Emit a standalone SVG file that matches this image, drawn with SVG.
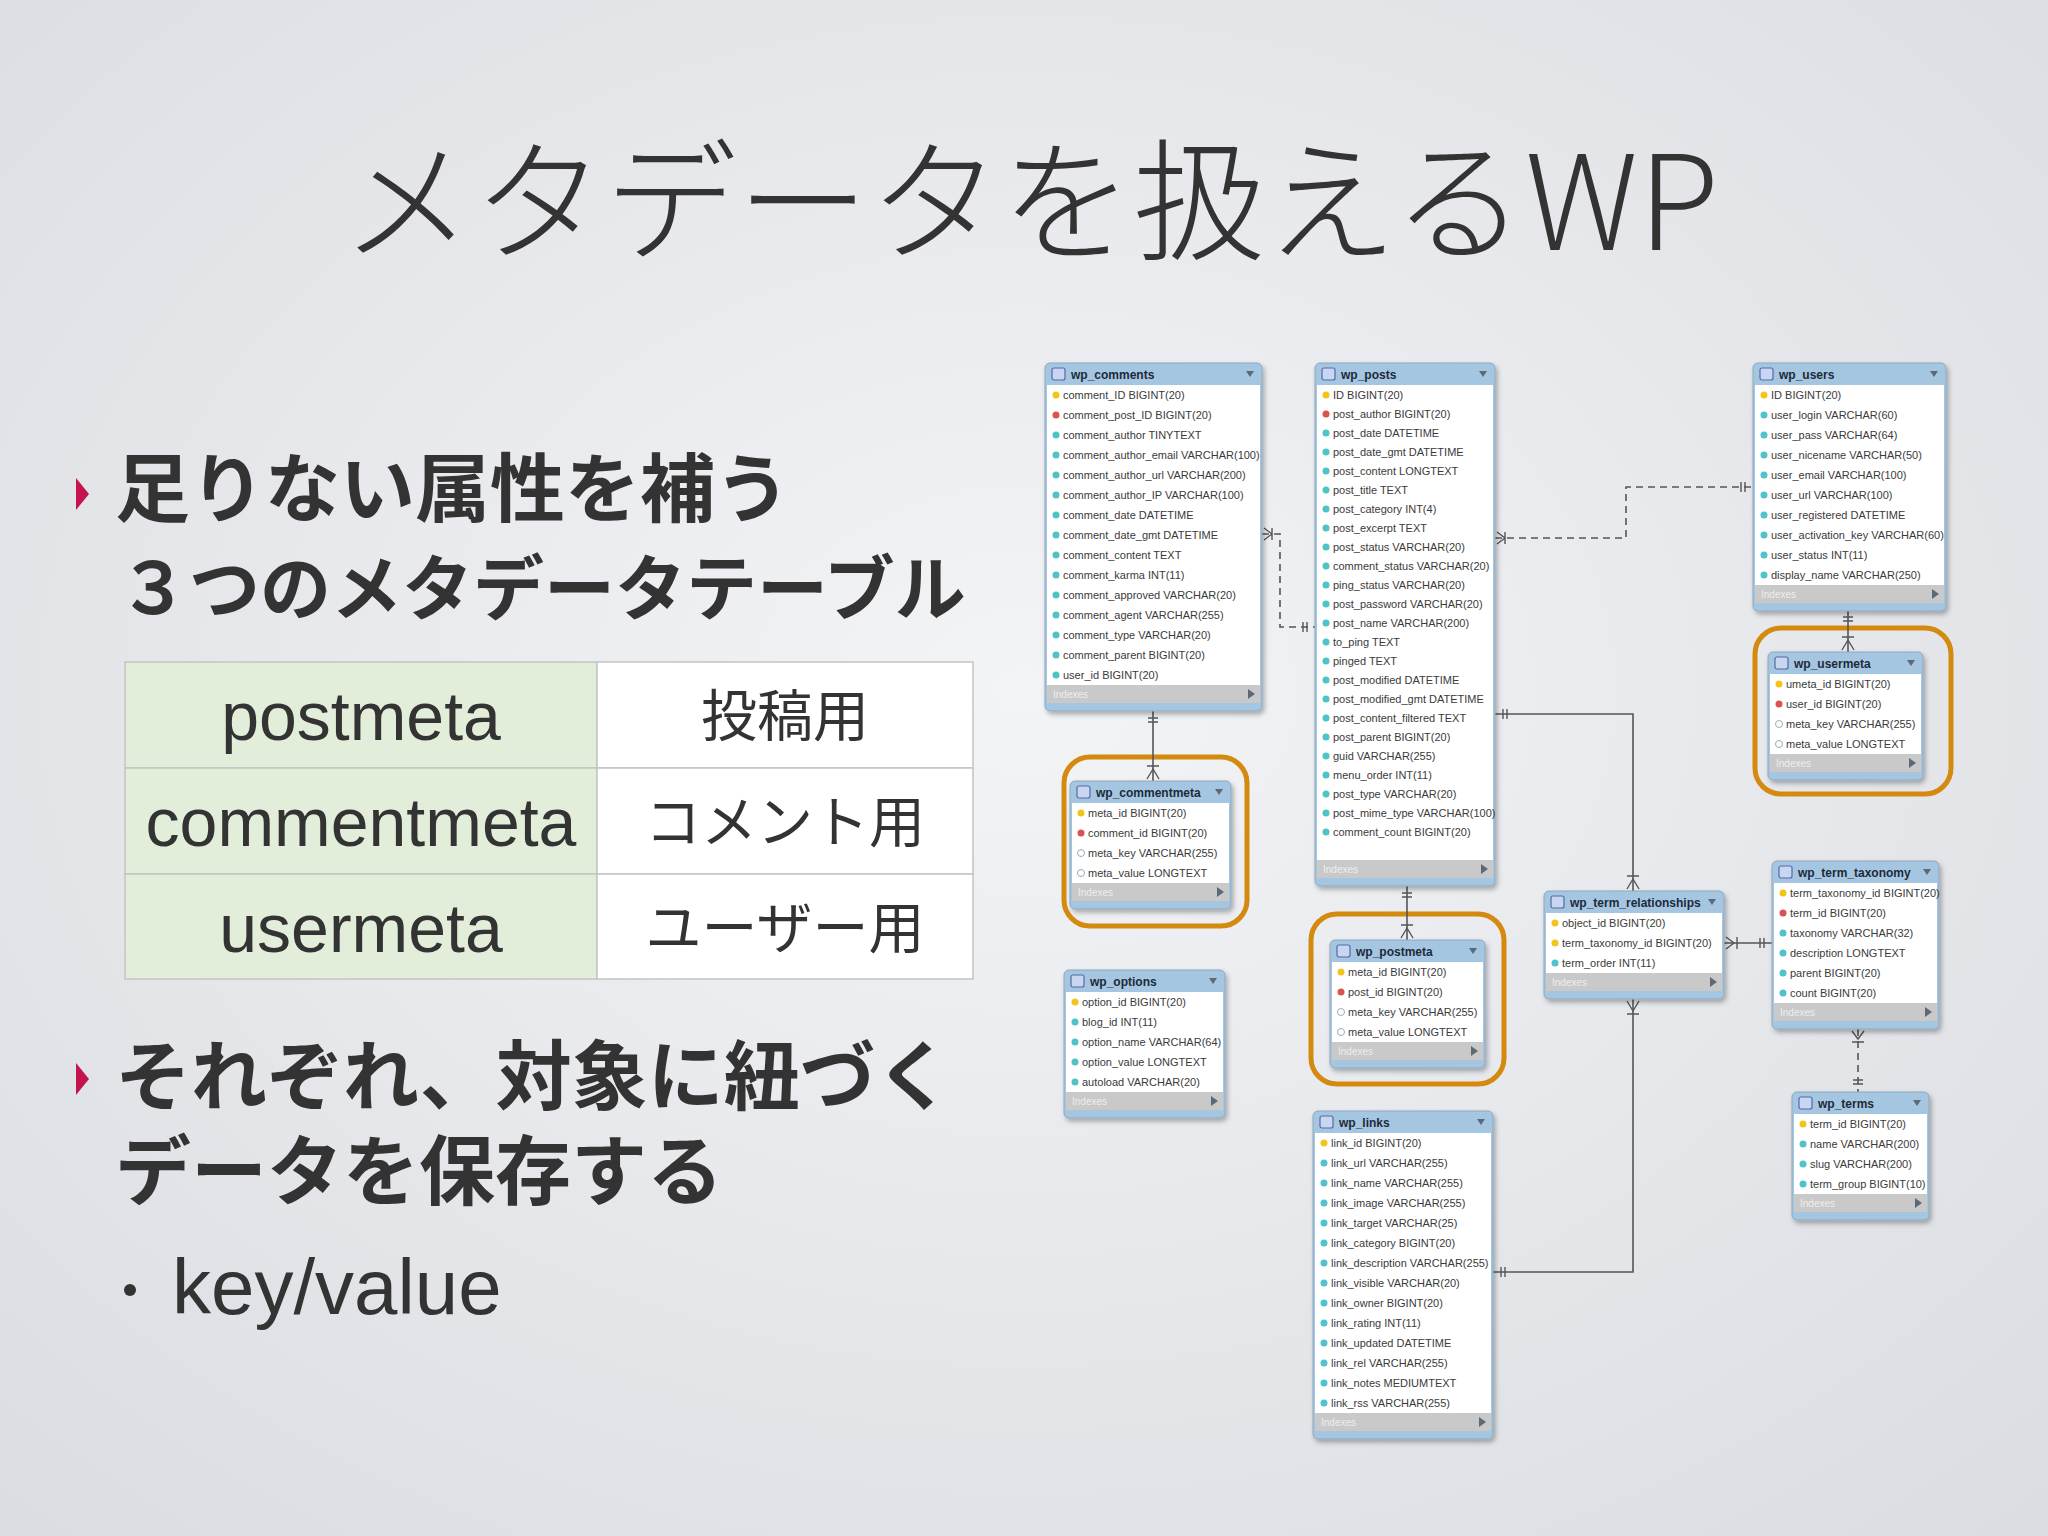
<svg xmlns="http://www.w3.org/2000/svg" width="2048" height="1536" viewBox="0 0 2048 1536">
<defs>
<radialGradient id="bg" cx="50%" cy="45%" r="75%">
<stop offset="0" stop-color="#f3f4f6"/><stop offset="1" stop-color="#d9dce1"/>
</radialGradient>
<filter id="sh" x="-10%" y="-10%" width="130%" height="130%"><feDropShadow dx="2" dy="3" stdDeviation="2.5" flood-color="#000" flood-opacity="0.3"/></filter>
</defs>
<style>
.frame{fill:#a5c6e0;stroke:#8ea7bd;stroke-width:1;filter:url(#sh)}
.body{fill:#fff}
.idx{fill:#c9c9c9}
.ico{fill:#c9d6f2;stroke:#5569a8;stroke-width:1.2}
.th{font-family:"Liberation Sans",Arial,sans-serif;font-weight:bold;font-size:12px;fill:#1d2a3a}
.r{font-family:"Liberation Sans",Arial,sans-serif;font-size:11px;fill:#3a3a3a}
.ix{font-family:"Liberation Sans",Arial,sans-serif;font-size:10px;fill:#eee}
.tri{fill:#5d6a76}
.k{fill:#f2c51a}
.f{fill:#d9534f}
.c{fill:#4fc3c9}
.o{fill:#fff;stroke:#9ab;stroke-width:1}
.hl{fill:none;stroke:#d4890f;stroke-width:5}
.ln{fill:none;stroke:#555;stroke-width:1.6}
.dl{fill:none;stroke:#555;stroke-width:1.6;stroke-dasharray:7 5}
.mk{fill:none;stroke:#555;stroke-width:1.4}
.jp{font-family:"Noto Sans CJK JP",sans-serif;fill:#333}
.en{font-family:"Liberation Sans",Arial,sans-serif;fill:#333}
.cell{stroke:#c3c3c3;stroke-width:1.5}
</style>
<rect width="2048" height="1536" fill="url(#bg)"/>

<text class="jp" x="1030" y="250" font-size="132" font-weight="300" text-anchor="middle">メタデータを扱えるWP</text>

<path d="M76,478 L89,494 L76,510 Z" fill="#c4144d"/>
<text class="jp" x="115" y="516" font-size="75" font-weight="700">足りない属性を補う</text>
<text class="jp" x="118" y="614" font-size="71" font-weight="700">３つのメタデータテーブル</text>

<g id="meta-table">
<rect class="cell" x="125" y="662" width="472" height="106" fill="#e2eed9"/>
<rect class="cell" x="125" y="768" width="472" height="106" fill="#e2eed9"/>
<rect class="cell" x="125" y="874" width="472" height="105" fill="#e2eed9"/>
<rect class="cell" x="597" y="662" width="376" height="106" fill="#fff"/>
<rect class="cell" x="597" y="768" width="376" height="106" fill="#fff"/>
<rect class="cell" x="597" y="874" width="376" height="105" fill="#fff"/>
<text class="en" x="361" y="740" font-size="68" text-anchor="middle">postmeta</text>
<text class="en" x="361" y="846" font-size="68" text-anchor="middle">commentmeta</text>
<text class="en" x="361" y="952" font-size="68" text-anchor="middle">usermeta</text>
<text class="jp" x="785" y="736" font-size="56" text-anchor="middle">投稿用</text>
<text class="jp" x="785" y="842" font-size="56" text-anchor="middle">コメント用</text>
<text class="jp" x="785" y="948" font-size="56" text-anchor="middle">ユーザー用</text>
</g>

<path d="M76,1063 L89,1079 L76,1095 Z" fill="#c4144d"/>
<text class="jp" x="115" y="1104" font-size="76" font-weight="700">それぞれ、対象に紐づく</text>
<text class="jp" x="115" y="1199" font-size="76" font-weight="700">データを保存する</text>
<circle cx="130" cy="1290" r="6" fill="#333"/>
<text class="en" x="172" y="1314" font-size="78">key/value</text>

<rect class="hl" x="1064" y="757" width="183" height="169" rx="26"/>
<rect class="hl" x="1311" y="914" width="193" height="170" rx="26"/>
<rect class="hl" x="1755" y="628" width="196" height="166" rx="26"/>

<g id="connectors">
<path class="dl" d="M1262,534 H1280 V627 H1315"/>
<path class="mk" d="M1264,528 L1272,534 L1264,540 M1272,528 V540 M1303,622 V632 M1307,622 V632"/>
<path class="dl" d="M1495,538 H1626 V487 H1753"/>
<path class="mk" d="M1497,532 L1505,538 L1497,544 M1505,532 V544 M1741,482 V492 M1745,482 V492"/>
<path class="ln" d="M1153,711 V781"/>
<path class="mk" d="M1148,718 H1158 M1148,722 H1158 M1147,779 L1153,769 L1159,779 M1147,766 H1159"/>
<path class="ln" d="M1407,886 V940"/>
<path class="mk" d="M1402,893 H1412 M1402,897 H1412 M1401,938 L1407,928 L1413,938 M1401,925 H1413"/>
<path class="ln" d="M1848,611 V652"/>
<path class="mk" d="M1843,617 H1853 M1843,621 H1853 M1842,650 L1848,640 L1854,650 M1842,637 H1854"/>
<path class="ln" d="M1495,714 H1633 V891"/>
<path class="mk" d="M1503,709 V719 M1507,709 V719 M1627,889 L1633,879 L1639,889 M1627,876 H1639"/>
<path class="ln" d="M1493,1272 H1633 V999"/>
<path class="mk" d="M1501,1267 V1277 M1505,1267 V1277 M1627,1001 L1633,1011 L1639,1001 M1627,1014 H1639"/>
<path class="ln" d="M1724,943 H1772"/>
<path class="mk" d="M1726,937 L1734,943 L1726,949 M1737,937 V949 M1760,938 V948 M1764,938 V948"/>
<path class="dl" d="M1858,1029 V1092"/>
<path class="mk" d="M1852,1031 L1858,1039 L1864,1031 M1852,1042 H1864 M1853,1080 H1863 M1853,1084 H1863"/>
</g>

<g id="wp_comments" transform="translate(1045,363)">
<rect class="frame" width="217" height="348" rx="5"/>
<rect class="body" x="2" y="22" width="213" height="300"/>
<rect class="idx" x="2" y="322" width="213" height="18"/>
<rect class="ico" x="7" y="5" width="13" height="12" rx="2"/>
<text class="th" x="26" y="16">wp_comments</text>
<path class="tri" d="M201,8 h8 l-4,6z"/>
<text class="ix" x="8" y="335">Indexes</text>
<path class="tri" d="M203,326 l7,5 -7,5z"/>
<circle class="k" cx="11" cy="32" r="3.5"/><text class="r" x="18" y="36">comment_ID BIGINT(20)</text>
<circle class="f" cx="11" cy="52" r="3.5"/><text class="r" x="18" y="56">comment_post_ID BIGINT(20)</text>
<circle class="c" cx="11" cy="72" r="3.5"/><text class="r" x="18" y="76">comment_author TINYTEXT</text>
<circle class="c" cx="11" cy="92" r="3.5"/><text class="r" x="18" y="96">comment_author_email VARCHAR(100)</text>
<circle class="c" cx="11" cy="112" r="3.5"/><text class="r" x="18" y="116">comment_author_url VARCHAR(200)</text>
<circle class="c" cx="11" cy="132" r="3.5"/><text class="r" x="18" y="136">comment_author_IP VARCHAR(100)</text>
<circle class="c" cx="11" cy="152" r="3.5"/><text class="r" x="18" y="156">comment_date DATETIME</text>
<circle class="c" cx="11" cy="172" r="3.5"/><text class="r" x="18" y="176">comment_date_gmt DATETIME</text>
<circle class="c" cx="11" cy="192" r="3.5"/><text class="r" x="18" y="196">comment_content TEXT</text>
<circle class="c" cx="11" cy="212" r="3.5"/><text class="r" x="18" y="216">comment_karma INT(11)</text>
<circle class="c" cx="11" cy="232" r="3.5"/><text class="r" x="18" y="236">comment_approved VARCHAR(20)</text>
<circle class="c" cx="11" cy="252" r="3.5"/><text class="r" x="18" y="256">comment_agent VARCHAR(255)</text>
<circle class="c" cx="11" cy="272" r="3.5"/><text class="r" x="18" y="276">comment_type VARCHAR(20)</text>
<circle class="c" cx="11" cy="292" r="3.5"/><text class="r" x="18" y="296">comment_parent BIGINT(20)</text>
<circle class="c" cx="11" cy="312" r="3.5"/><text class="r" x="18" y="316">user_id BIGINT(20)</text>
</g>

<g id="wp_posts" transform="translate(1315,363)">
<rect class="frame" width="180" height="523" rx="5"/>
<rect class="body" x="2" y="22" width="176" height="475"/>
<rect class="idx" x="2" y="497" width="176" height="18"/>
<rect class="ico" x="7" y="5" width="13" height="12" rx="2"/>
<text class="th" x="26" y="16">wp_posts</text>
<path class="tri" d="M164,8 h8 l-4,6z"/>
<text class="ix" x="8" y="510">Indexes</text>
<path class="tri" d="M166,501 l7,5 -7,5z"/>
<circle class="k" cx="11" cy="32" r="3.5"/><text class="r" x="18" y="36">ID BIGINT(20)</text>
<circle class="f" cx="11" cy="51" r="3.5"/><text class="r" x="18" y="55">post_author BIGINT(20)</text>
<circle class="c" cx="11" cy="70" r="3.5"/><text class="r" x="18" y="74">post_date DATETIME</text>
<circle class="c" cx="11" cy="89" r="3.5"/><text class="r" x="18" y="93">post_date_gmt DATETIME</text>
<circle class="c" cx="11" cy="108" r="3.5"/><text class="r" x="18" y="112">post_content LONGTEXT</text>
<circle class="c" cx="11" cy="127" r="3.5"/><text class="r" x="18" y="131">post_title TEXT</text>
<circle class="c" cx="11" cy="146" r="3.5"/><text class="r" x="18" y="150">post_category INT(4)</text>
<circle class="c" cx="11" cy="165" r="3.5"/><text class="r" x="18" y="169">post_excerpt TEXT</text>
<circle class="c" cx="11" cy="184" r="3.5"/><text class="r" x="18" y="188">post_status VARCHAR(20)</text>
<circle class="c" cx="11" cy="203" r="3.5"/><text class="r" x="18" y="207">comment_status VARCHAR(20)</text>
<circle class="c" cx="11" cy="222" r="3.5"/><text class="r" x="18" y="226">ping_status VARCHAR(20)</text>
<circle class="c" cx="11" cy="241" r="3.5"/><text class="r" x="18" y="245">post_password VARCHAR(20)</text>
<circle class="c" cx="11" cy="260" r="3.5"/><text class="r" x="18" y="264">post_name VARCHAR(200)</text>
<circle class="c" cx="11" cy="279" r="3.5"/><text class="r" x="18" y="283">to_ping TEXT</text>
<circle class="c" cx="11" cy="298" r="3.5"/><text class="r" x="18" y="302">pinged TEXT</text>
<circle class="c" cx="11" cy="317" r="3.5"/><text class="r" x="18" y="321">post_modified DATETIME</text>
<circle class="c" cx="11" cy="336" r="3.5"/><text class="r" x="18" y="340">post_modified_gmt DATETIME</text>
<circle class="c" cx="11" cy="355" r="3.5"/><text class="r" x="18" y="359">post_content_filtered TEXT</text>
<circle class="c" cx="11" cy="374" r="3.5"/><text class="r" x="18" y="378">post_parent BIGINT(20)</text>
<circle class="c" cx="11" cy="393" r="3.5"/><text class="r" x="18" y="397">guid VARCHAR(255)</text>
<circle class="c" cx="11" cy="412" r="3.5"/><text class="r" x="18" y="416">menu_order INT(11)</text>
<circle class="c" cx="11" cy="431" r="3.5"/><text class="r" x="18" y="435">post_type VARCHAR(20)</text>
<circle class="c" cx="11" cy="450" r="3.5"/><text class="r" x="18" y="454">post_mime_type VARCHAR(100)</text>
<circle class="c" cx="11" cy="469" r="3.5"/><text class="r" x="18" y="473">comment_count BIGINT(20)</text>
</g>

<g id="wp_users" transform="translate(1753,363)">
<rect class="frame" width="193" height="248" rx="5"/>
<rect class="body" x="2" y="22" width="189" height="200"/>
<rect class="idx" x="2" y="222" width="189" height="18"/>
<rect class="ico" x="7" y="5" width="13" height="12" rx="2"/>
<text class="th" x="26" y="16">wp_users</text>
<path class="tri" d="M177,8 h8 l-4,6z"/>
<text class="ix" x="8" y="235">Indexes</text>
<path class="tri" d="M179,226 l7,5 -7,5z"/>
<circle class="k" cx="11" cy="32" r="3.5"/><text class="r" x="18" y="36">ID BIGINT(20)</text>
<circle class="c" cx="11" cy="52" r="3.5"/><text class="r" x="18" y="56">user_login VARCHAR(60)</text>
<circle class="c" cx="11" cy="72" r="3.5"/><text class="r" x="18" y="76">user_pass VARCHAR(64)</text>
<circle class="c" cx="11" cy="92" r="3.5"/><text class="r" x="18" y="96">user_nicename VARCHAR(50)</text>
<circle class="c" cx="11" cy="112" r="3.5"/><text class="r" x="18" y="116">user_email VARCHAR(100)</text>
<circle class="c" cx="11" cy="132" r="3.5"/><text class="r" x="18" y="136">user_url VARCHAR(100)</text>
<circle class="c" cx="11" cy="152" r="3.5"/><text class="r" x="18" y="156">user_registered DATETIME</text>
<circle class="c" cx="11" cy="172" r="3.5"/><text class="r" x="18" y="176">user_activation_key VARCHAR(60)</text>
<circle class="c" cx="11" cy="192" r="3.5"/><text class="r" x="18" y="196">user_status INT(11)</text>
<circle class="c" cx="11" cy="212" r="3.5"/><text class="r" x="18" y="216">display_name VARCHAR(250)</text>
</g>

<g id="wp_usermeta" transform="translate(1768,652)">
<rect class="frame" width="155" height="128" rx="5"/>
<rect class="body" x="2" y="22" width="151" height="80"/>
<rect class="idx" x="2" y="102" width="151" height="18"/>
<rect class="ico" x="7" y="5" width="13" height="12" rx="2"/>
<text class="th" x="26" y="16">wp_usermeta</text>
<path class="tri" d="M139,8 h8 l-4,6z"/>
<text class="ix" x="8" y="115">Indexes</text>
<path class="tri" d="M141,106 l7,5 -7,5z"/>
<circle class="k" cx="11" cy="32" r="3.5"/><text class="r" x="18" y="36">umeta_id BIGINT(20)</text>
<circle class="f" cx="11" cy="52" r="3.5"/><text class="r" x="18" y="56">user_id BIGINT(20)</text>
<circle class="o" cx="11" cy="72" r="3.5"/><text class="r" x="18" y="76">meta_key VARCHAR(255)</text>
<circle class="o" cx="11" cy="92" r="3.5"/><text class="r" x="18" y="96">meta_value LONGTEXT</text>
</g>

<g id="wp_commentmeta" transform="translate(1070,781)">
<rect class="frame" width="161" height="128" rx="5"/>
<rect class="body" x="2" y="22" width="157" height="80"/>
<rect class="idx" x="2" y="102" width="157" height="18"/>
<rect class="ico" x="7" y="5" width="13" height="12" rx="2"/>
<text class="th" x="26" y="16">wp_commentmeta</text>
<path class="tri" d="M145,8 h8 l-4,6z"/>
<text class="ix" x="8" y="115">Indexes</text>
<path class="tri" d="M147,106 l7,5 -7,5z"/>
<circle class="k" cx="11" cy="32" r="3.5"/><text class="r" x="18" y="36">meta_id BIGINT(20)</text>
<circle class="f" cx="11" cy="52" r="3.5"/><text class="r" x="18" y="56">comment_id BIGINT(20)</text>
<circle class="o" cx="11" cy="72" r="3.5"/><text class="r" x="18" y="76">meta_key VARCHAR(255)</text>
<circle class="o" cx="11" cy="92" r="3.5"/><text class="r" x="18" y="96">meta_value LONGTEXT</text>
</g>

<g id="wp_options" transform="translate(1064,970)">
<rect class="frame" width="161" height="148" rx="5"/>
<rect class="body" x="2" y="22" width="157" height="100"/>
<rect class="idx" x="2" y="122" width="157" height="18"/>
<rect class="ico" x="7" y="5" width="13" height="12" rx="2"/>
<text class="th" x="26" y="16">wp_options</text>
<path class="tri" d="M145,8 h8 l-4,6z"/>
<text class="ix" x="8" y="135">Indexes</text>
<path class="tri" d="M147,126 l7,5 -7,5z"/>
<circle class="k" cx="11" cy="32" r="3.5"/><text class="r" x="18" y="36">option_id BIGINT(20)</text>
<circle class="c" cx="11" cy="52" r="3.5"/><text class="r" x="18" y="56">blog_id INT(11)</text>
<circle class="c" cx="11" cy="72" r="3.5"/><text class="r" x="18" y="76">option_name VARCHAR(64)</text>
<circle class="c" cx="11" cy="92" r="3.5"/><text class="r" x="18" y="96">option_value LONGTEXT</text>
<circle class="c" cx="11" cy="112" r="3.5"/><text class="r" x="18" y="116">autoload VARCHAR(20)</text>
</g>

<g id="wp_postmeta" transform="translate(1330,940)">
<rect class="frame" width="155" height="128" rx="5"/>
<rect class="body" x="2" y="22" width="151" height="80"/>
<rect class="idx" x="2" y="102" width="151" height="18"/>
<rect class="ico" x="7" y="5" width="13" height="12" rx="2"/>
<text class="th" x="26" y="16">wp_postmeta</text>
<path class="tri" d="M139,8 h8 l-4,6z"/>
<text class="ix" x="8" y="115">Indexes</text>
<path class="tri" d="M141,106 l7,5 -7,5z"/>
<circle class="k" cx="11" cy="32" r="3.5"/><text class="r" x="18" y="36">meta_id BIGINT(20)</text>
<circle class="f" cx="11" cy="52" r="3.5"/><text class="r" x="18" y="56">post_id BIGINT(20)</text>
<circle class="o" cx="11" cy="72" r="3.5"/><text class="r" x="18" y="76">meta_key VARCHAR(255)</text>
<circle class="o" cx="11" cy="92" r="3.5"/><text class="r" x="18" y="96">meta_value LONGTEXT</text>
</g>

<g id="wp_links" transform="translate(1313,1111)">
<rect class="frame" width="180" height="328" rx="5"/>
<rect class="body" x="2" y="22" width="176" height="280"/>
<rect class="idx" x="2" y="302" width="176" height="18"/>
<rect class="ico" x="7" y="5" width="13" height="12" rx="2"/>
<text class="th" x="26" y="16">wp_links</text>
<path class="tri" d="M164,8 h8 l-4,6z"/>
<text class="ix" x="8" y="315">Indexes</text>
<path class="tri" d="M166,306 l7,5 -7,5z"/>
<circle class="k" cx="11" cy="32" r="3.5"/><text class="r" x="18" y="36">link_id BIGINT(20)</text>
<circle class="c" cx="11" cy="52" r="3.5"/><text class="r" x="18" y="56">link_url VARCHAR(255)</text>
<circle class="c" cx="11" cy="72" r="3.5"/><text class="r" x="18" y="76">link_name VARCHAR(255)</text>
<circle class="c" cx="11" cy="92" r="3.5"/><text class="r" x="18" y="96">link_image VARCHAR(255)</text>
<circle class="c" cx="11" cy="112" r="3.5"/><text class="r" x="18" y="116">link_target VARCHAR(25)</text>
<circle class="c" cx="11" cy="132" r="3.5"/><text class="r" x="18" y="136">link_category BIGINT(20)</text>
<circle class="c" cx="11" cy="152" r="3.5"/><text class="r" x="18" y="156">link_description VARCHAR(255)</text>
<circle class="c" cx="11" cy="172" r="3.5"/><text class="r" x="18" y="176">link_visible VARCHAR(20)</text>
<circle class="c" cx="11" cy="192" r="3.5"/><text class="r" x="18" y="196">link_owner BIGINT(20)</text>
<circle class="c" cx="11" cy="212" r="3.5"/><text class="r" x="18" y="216">link_rating INT(11)</text>
<circle class="c" cx="11" cy="232" r="3.5"/><text class="r" x="18" y="236">link_updated DATETIME</text>
<circle class="c" cx="11" cy="252" r="3.5"/><text class="r" x="18" y="256">link_rel VARCHAR(255)</text>
<circle class="c" cx="11" cy="272" r="3.5"/><text class="r" x="18" y="276">link_notes MEDIUMTEXT</text>
<circle class="c" cx="11" cy="292" r="3.5"/><text class="r" x="18" y="296">link_rss VARCHAR(255)</text>
</g>

<g id="wp_term_relationships" transform="translate(1544,891)">
<rect class="frame" width="180" height="108" rx="5"/>
<rect class="body" x="2" y="22" width="176" height="60"/>
<rect class="idx" x="2" y="82" width="176" height="18"/>
<rect class="ico" x="7" y="5" width="13" height="12" rx="2"/>
<text class="th" x="26" y="16">wp_term_relationships</text>
<path class="tri" d="M164,8 h8 l-4,6z"/>
<text class="ix" x="8" y="95">Indexes</text>
<path class="tri" d="M166,86 l7,5 -7,5z"/>
<circle class="k" cx="11" cy="32" r="3.5"/><text class="r" x="18" y="36">object_id BIGINT(20)</text>
<circle class="k" cx="11" cy="52" r="3.5"/><text class="r" x="18" y="56">term_taxonomy_id BIGINT(20)</text>
<circle class="c" cx="11" cy="72" r="3.5"/><text class="r" x="18" y="76">term_order INT(11)</text>
</g>

<g id="wp_term_taxonomy" transform="translate(1772,861)">
<rect class="frame" width="167" height="168" rx="5"/>
<rect class="body" x="2" y="22" width="163" height="120"/>
<rect class="idx" x="2" y="142" width="163" height="18"/>
<rect class="ico" x="7" y="5" width="13" height="12" rx="2"/>
<text class="th" x="26" y="16">wp_term_taxonomy</text>
<path class="tri" d="M151,8 h8 l-4,6z"/>
<text class="ix" x="8" y="155">Indexes</text>
<path class="tri" d="M153,146 l7,5 -7,5z"/>
<circle class="k" cx="11" cy="32" r="3.5"/><text class="r" x="18" y="36">term_taxonomy_id BIGINT(20)</text>
<circle class="f" cx="11" cy="52" r="3.5"/><text class="r" x="18" y="56">term_id BIGINT(20)</text>
<circle class="c" cx="11" cy="72" r="3.5"/><text class="r" x="18" y="76">taxonomy VARCHAR(32)</text>
<circle class="c" cx="11" cy="92" r="3.5"/><text class="r" x="18" y="96">description LONGTEXT</text>
<circle class="c" cx="11" cy="112" r="3.5"/><text class="r" x="18" y="116">parent BIGINT(20)</text>
<circle class="c" cx="11" cy="132" r="3.5"/><text class="r" x="18" y="136">count BIGINT(20)</text>
</g>

<g id="wp_terms" transform="translate(1792,1092)">
<rect class="frame" width="137" height="128" rx="5"/>
<rect class="body" x="2" y="22" width="133" height="80"/>
<rect class="idx" x="2" y="102" width="133" height="18"/>
<rect class="ico" x="7" y="5" width="13" height="12" rx="2"/>
<text class="th" x="26" y="16">wp_terms</text>
<path class="tri" d="M121,8 h8 l-4,6z"/>
<text class="ix" x="8" y="115">Indexes</text>
<path class="tri" d="M123,106 l7,5 -7,5z"/>
<circle class="k" cx="11" cy="32" r="3.5"/><text class="r" x="18" y="36">term_id BIGINT(20)</text>
<circle class="c" cx="11" cy="52" r="3.5"/><text class="r" x="18" y="56">name VARCHAR(200)</text>
<circle class="c" cx="11" cy="72" r="3.5"/><text class="r" x="18" y="76">slug VARCHAR(200)</text>
<circle class="c" cx="11" cy="92" r="3.5"/><text class="r" x="18" y="96">term_group BIGINT(10)</text>
</g>
</svg>
